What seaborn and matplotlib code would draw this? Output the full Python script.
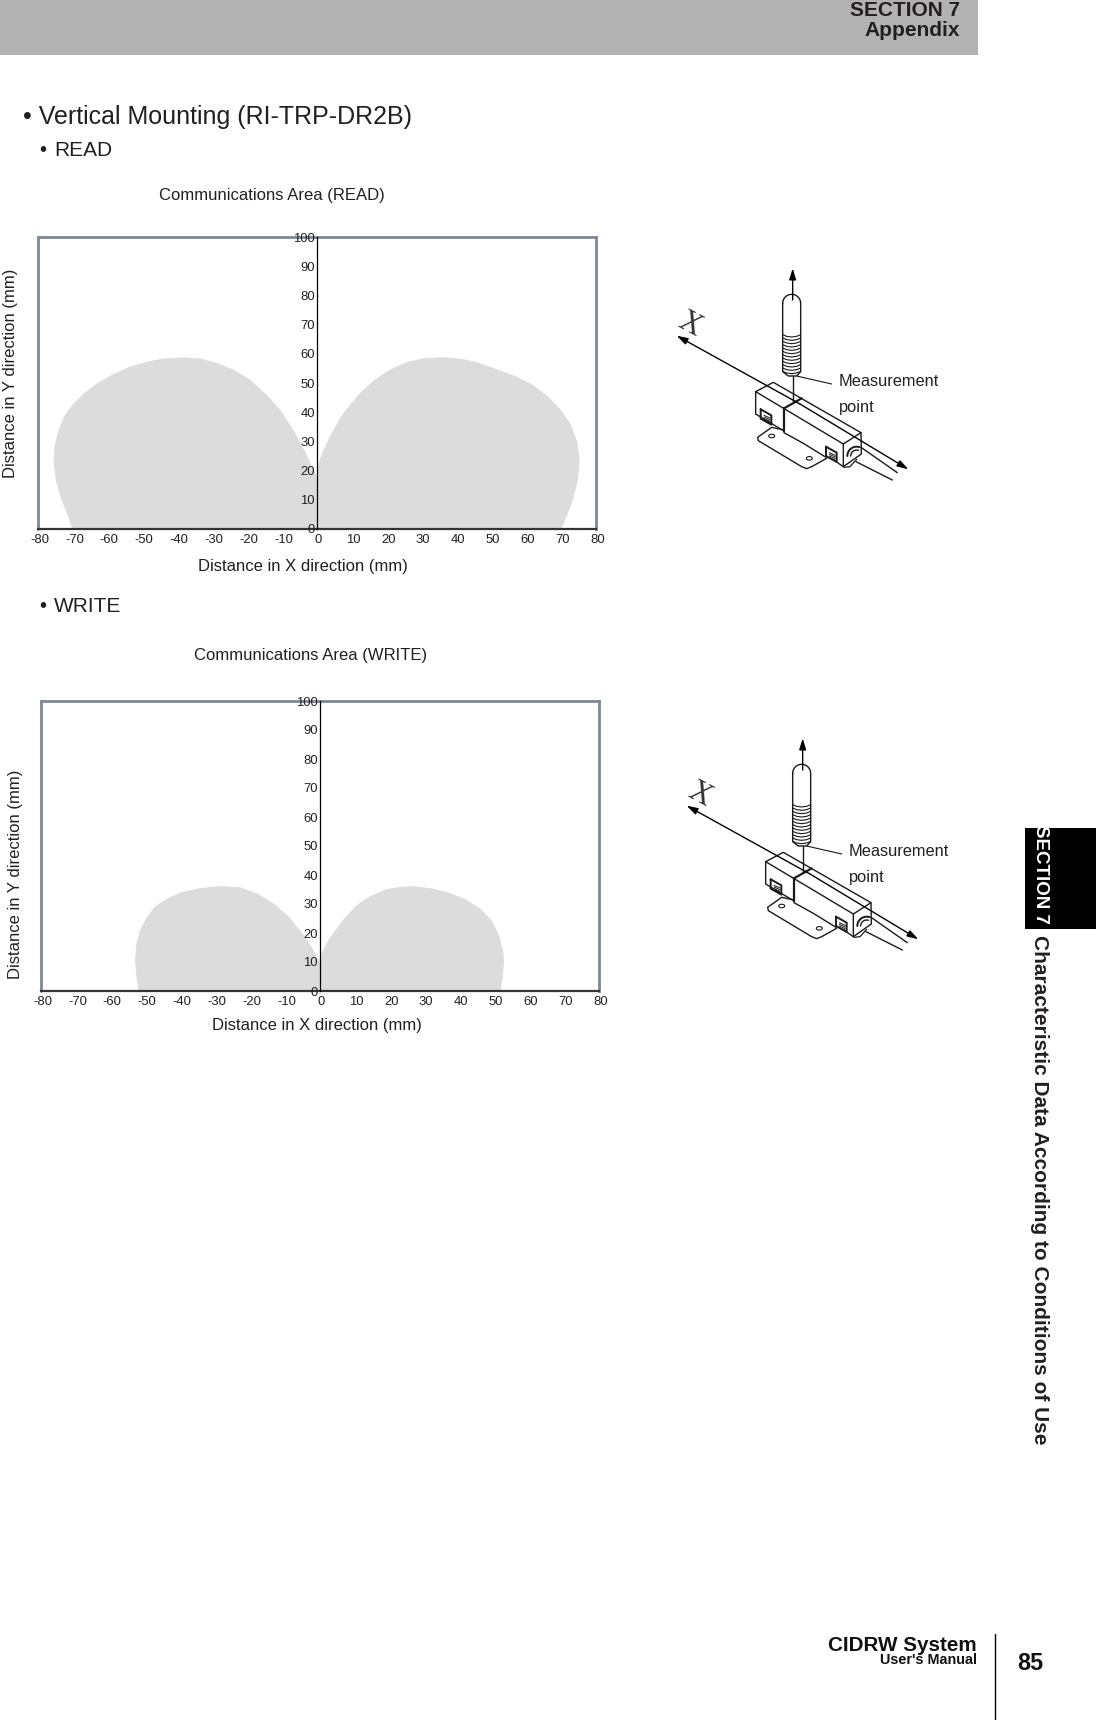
import numpy as np
import pandas as pd
import matplotlib
matplotlib.use("Agg")
import matplotlib.pyplot as plt
from matplotlib.patches import Rectangle, Ellipse
from matplotlib.transforms import ScaledTranslation
import seaborn as sns

sns.set_theme(style="white")
plt.rcParams['font.family'] = ['Liberation Sans', 'DejaVu Sans']
plt.rcParams['axes.unicode_minus'] = False

W, H = 1096, 1720
GRAY = '#808890'
FILL = '#dcdcdc'
TXT = '#231f20'

x_ticks = list(range(-80, 81, 10))
y_ticks = list(range(0, 101, 10))

# READ lobes, outline (mm)
read_left_x = [-70, -71.4, -73.3, -74.8, -75.4, -75.2, -74.3, -72.4, -70, -66.6, -62.8, -58.5, -53.7, -48.9, -44.2, -38.4,
               -33.7, -28.9, -24.1, -19.3, -14.5, -10.7, -6.9, -3.5, -1.6, -0.5, 0, 0]
read_left_y = [0, 4.8, 10.5, 16.8, 23.1, 27.7, 32.8, 38.5, 42.5, 46.5, 49.9, 52.8, 55.4, 57.1, 58.2, 58.6,
               58.3, 56.8, 54.5, 51.1, 45.9, 40.8, 33.9, 26.5, 21.4, 19, 17, 0]
read_right_x = [0, 1.4, 3.8, 6.7, 9.6, 12.9, 16.7, 21, 25.8, 30.6, 36.3, 41.6, 46.4, 51.6, 56.9, 61.6, 66, 69.8, 72.7,
                74.6, 75.2, 74.6, 73.1, 71.4, 69.9, 0]
read_right_y = [19.9, 25.4, 31.7, 37.9, 42.5, 47.1, 51.1, 54.5, 57, 58.3, 58.7, 58.1, 56.8, 54.5, 52.2, 49.4, 45.4, 40.8, 35.7,
                29.4, 23.1, 16.2, 9.4, 4.2, 0, 0]

# WRITE lobes
write_left_x = [-51.9, -52.5, -52.9, -52.6, -51.6, -49.7, -47.1, -43.7, -39.9, -35.1, -30.8, -27.5, -22.7, -17.9, -13.1,
                -8.8, -5, -2.1, -0.4, 0, 0]
write_left_y = [0, 4.8, 10.2, 15.6, 20.7, 25.2, 29.2, 31.8, 33.8, 35.2, 35.8, 36, 35.5, 33.4, 29.8,
                25.2, 19.5, 14.4, 10.5, 9.3, 0]
write_right_x = [0, 1.6, 4, 6.9, 10.2, 14, 18.8, 23.5, 26.9, 32.1, 36.9, 41.6, 45.9, 49.2, 51.3, 52.4, 52.6, 52.3, 51.6, 0]
write_right_y = [11, 15.6, 20.1, 24.7, 29, 32.3, 34.9, 35.8, 36, 35.2, 33.8, 31.5, 28.3, 24.1, 19, 13.9, 9.9, 4.8, 0, 0]


def lobes(lx, ly, rx, ry):
    return pd.DataFrame({
        'x': lx + rx,
        'y': ly + ry,
        'lobe': ['left'] * len(lx) + ['right'] * len(rx),
    })


def area_chart(box, df, title, title_xy, xlab_xy, ylab_xy):
    left, top, right, bottom = box
    ax = fig.add_axes([left / W, 1 - bottom / H, (right - left) / W, (bottom - top) / H])
    for name, part in df.groupby('lobe'):
        ax.fill(part['x'], part['y'], color=FILL, lw=0, zorder=1)
    sns.lineplot(data=df, x='x', y='y', units='lobe', estimator=None, sort=False,
                 color=FILL, lw=0.6, ax=ax, legend=False, zorder=1)
    ax.set_axisbelow(False)
    ax.set_xlim(-80, 80)
    ax.set_ylim(0, 100)
    ax.set_xticks(x_ticks)
    ax.set_yticks(y_ticks)
    ax.tick_params(axis='x', direction='in', length=2.5, width=0.8, color='#222222', pad=3.5,
                   labelsize=9.4, labelcolor=TXT)
    ax.tick_params(axis='y', direction='inout', length=5, width=0.8, color='#222222', pad=-1,
                   labelsize=9.4, labelcolor=TXT)
    # labels sit a touch off the ticks in the original
    for lab in ax.get_xticklabels():
        lab.set_transform(lab.get_transform() + ScaledTranslation(1.5 / 100, 0, fig.dpi_scale_trans))
    for lab in ax.get_yticklabels():
        lab.set_transform(lab.get_transform() + ScaledTranslation(0, 1.5 / 100, fig.dpi_scale_trans))
    # y axis sits on x=0, the frame goes round it
    ax.spines['left'].set_position(('data', 0))
    ax.spines['left'].set_color('black')
    ax.spines['left'].set_linewidth(0.9)
    ax.spines['left'].set_zorder(3)
    ax.axvline(-80, color=GRAY, lw=2, clip_on=False, zorder=2)
    ax.spines['top'].set_color(GRAY)
    ax.spines['right'].set_color(GRAY)
    ax.spines['top'].set_linewidth(2)
    ax.spines['right'].set_linewidth(2)
    ax.spines['bottom'].set_color('#333338')
    ax.spines['bottom'].set_linewidth(1.6)
    ax.patch.set_alpha(0)
    ax.set_title(title, fontsize=12, color=TXT, x=title_xy[0], y=title_xy[1], va='center', pad=0)
    ax.set_xlabel('Distance in X direction (mm)', fontsize=12, color=TXT)
    ax.xaxis.set_label_coords(*xlab_xy)
    ax.set_ylabel('Distance in Y direction (mm)', fontsize=12, color=TXT, va='center')
    ax.yaxis.set_label_coords(*ylab_xy)
    return ax


def seg(pts, ox, oy, lw=1.0, **kw):
    # points given in crop coords, 3 units per pixel
    xs = [660 + p[0] / 3 + ox for p in pts]
    ys = [250 + p[1] / 3 + oy for p in pts]
    page.plot(xs, ys, color='#1a1a1a', lw=lw, solid_capstyle='round', **kw)


def arrow(a, b, ox, oy):
    pa = (660 + a[0] / 3 + ox, 250 + a[1] / 3 + oy)
    pb = (660 + b[0] / 3 + ox, 250 + b[1] / 3 + oy)
    page.annotate('', xy=pb, xytext=pa,
                  arrowprops=dict(arrowstyle='-|>,head_length=0.55,head_width=0.17', color='black',
                                  lw=1.0, shrinkA=0, shrinkB=0))


def sensor(ox, oy):
    # axes and probe
    arrow((398, 150), (398, 55), ox, oy)
    seg([(398, 378), (398, 455)], ox, oy)
    arrow((420, 462), (50, 257), ox, oy)
    arrow((420, 462), (745, 658), ox, oy)
    th = np.linspace(np.pi, 0, 20)
    cap_x = list(395 + 27 * np.cos(th))
    cap_y = list(160 - 27 * np.sin(th))
    seg(list(zip(cap_x, cap_y)) + [(422, 365), (410, 378), (385, 378), (368, 365), (368, 160)], ox, oy)
    for yc in range(254, 372, 10):
        seg([(368, yc), (380, yc + 5), (395, yc + 7), (410, yc + 5), (422, yc)], ox, oy, lw=0.8)
    seg([(410, 378), (515, 402)], ox, oy, lw=0.8)
    # body
    seg([(287, 425), (340, 397), (603, 548), (550, 582), (287, 425)], ox, oy)
    seg([(287, 425), (287, 492), (372, 543)], ox, oy)
    seg([(550, 582), (550, 650), (604, 612), (603, 548)], ox, oy)
    seg([(372, 475), (372, 543)], ox, oy, lw=1.6)
    seg([(372, 475), (425, 445)], ox, oy, lw=1.6)
    seg([(372, 543), (372, 548), (430, 580), (498, 622)], ox, oy)
    seg([(530, 636), (550, 650)], ox, oy)
    # plate
    seg([(372, 540), (335, 532), (293, 562), (295, 572), (425, 650), (440, 656), (455, 650), (500, 625)], ox, oy)
    for c in [(335, 558), (448, 625)]:
        page.add_patch(Ellipse((660 + c[0] / 3 + ox, 250 + c[1] / 3 + oy), 6, 3.5, fill=False, lw=0.8, ec='#1a1a1a'))
    # tabs
    for tx, ty in [(302, 478), (498, 590)]:
        seg([(tx, ty), (tx + 32, ty + 18), (tx + 32, ty + 46), (tx, ty + 28), (tx, ty)], ox, oy, lw=1.4)
        for k in range(4):
            seg([(tx + 10, ty + 18 + k * 5), (tx + 28, ty + 26 + k * 5)], ox, oy, lw=0.7)
    # cable end
    th = np.linspace(np.pi, np.pi * 1.6, 12)
    seg(list(zip(590 + 28 * np.cos(th), 618 + 28 * np.sin(th))), ox, oy, lw=1.4)
    seg(list(zip(590 + 18 * np.cos(th), 618 + 18 * np.sin(th))), ox, oy)
    seg([(590, 628), (570, 650), (552, 652)], ox, oy, lw=0.9)
    seg([(603, 592), (712, 668)], ox, oy)
    seg([(588, 635), (697, 690)], ox, oy)
    page.text(660 + 90 / 3 + ox, 250 + 225 / 3 + oy, 'X', family=['Liberation Serif'], fontsize=22,
              rotation=-28, ha='center', va='center', color='#333333')
    page.text(660 + 537 / 3 + ox, 250 + 395 / 3 + oy, 'Measurement', fontsize=11.8, color=TXT, va='center')
    page.text(660 + 537 / 3 + ox, 250 + 472 / 3 + oy, 'point', fontsize=11.8, color=TXT, va='center')


fig = plt.figure(figsize=(W / 100, H / 100), dpi=100, facecolor='white')

# page furniture, drawn in pixel coords
page = fig.add_axes([0, 0, 1, 1], zorder=0)
page.set_xlim(0, W)
page.set_ylim(H, 0)
page.axis('off')

page.add_patch(Rectangle((0, 0), 978, 55, color='#b2b2b2', lw=0))
page.text(960, 10, 'SECTION 7', fontsize=15, fontweight='bold', ha='right', va='center', color=TXT)
page.text(960, 31, 'Appendix', fontsize=15, fontweight='bold', ha='right', va='center', color=TXT)
page.text(23, 117, '• Vertical Mounting (RI-TRP-DR2B)', fontsize=18, va='center', color=TXT)
page.text(39, 150, '•', fontsize=14.5, va='center', color=TXT)
page.text(54, 150, 'READ', fontsize=15, va='center', color=TXT)
page.text(39, 606, '•', fontsize=14.5, va='center', color=TXT)
page.text(54, 606, 'WRITE', fontsize=15, va='center', color=TXT)

page.add_patch(Rectangle((1025, 828), 71, 101, color='black', lw=0))
sec_clip = Rectangle((1025, 828), 71, 101, transform=page.transData)
t = page.text(1040, 874, 'SECTION 7', fontsize=13.5, fontweight='bold', rotation=-90, ha='center', va='center', color='white')
t.set_clip_path(sec_clip)
page.text(1039, 935, 'Characteristic Data According to Conditions of Use', fontsize=15, fontweight='bold',
          rotation=-90, ha='center', va='top', color=TXT)

page.text(977, 1651, 'CIDRW System', fontsize=14.9, fontweight='bold', ha='right', va='baseline', color='#111111')
page.text(977, 1664, "User's Manual", fontsize=10.4, fontweight='bold', ha='right', va='baseline', color='#111111')
page.plot([995, 995], [1634, H], color='black', lw=1)
page.text(1030, 1664, '85', fontsize=16.8, fontweight='bold', ha='center', va='center', color='#111111')

sensor(0, 0)
sensor(10, 470)

area_chart((38, 237, 596, 529), lobes(read_left_x, read_left_y, read_right_x, read_right_y),
           'Communications Area (READ)', (0.42, 1.1425), (0.475, -0.103), (-0.05, 0.534))
area_chart((41, 701, 599, 991), lobes(write_left_x, write_left_y, write_right_x, write_right_y),
           'Communications Area (WRITE)', (0.483, 1.157), (0.494, -0.093), (-0.0455, 0.403))

fig.savefig('out.png', dpi=100)
